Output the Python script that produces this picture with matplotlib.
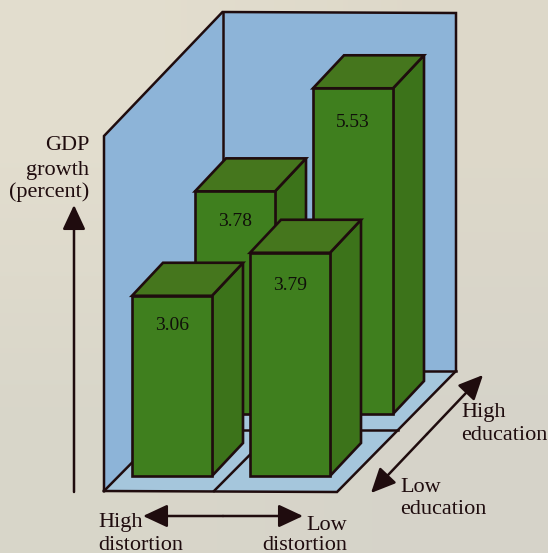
import numpy as np
import matplotlib
matplotlib.use("Agg")
import matplotlib.pyplot as plt
from matplotlib.patches import Polygon

plt.rcParams["font.family"] = ["Liberation Serif", "DejaVu Serif"]

# ------------------------------
# Data (back row first, so front bars paint over)
# ------------------------------
bar_distortion = ["High", "Low", "High", "Low"]
bar_education = ["High", "High", "Low", "Low"]
gdp_growth = [3.78, 5.53, 3.06, 3.79]

# ------------------------------
# Oblique projection (pixels of the picture)
# ------------------------------
X0, Y0 = 132, 476
COL_DX = 118
ROW_DX, ROW_DY = 63, 62
BAR_W = 80
DEPTH_DX, DEPTH_DY = 31, 33
PX_PER_UNIT = 58.9

INK = "#1f0c0e"
WALL = "#8db4d8"
FLOOR = "#a5c6dc"
FRONT = "#3f7f1e"
SIDE = "#3c731a"
TOP = "#45761d"
BG = "#dcd8cb"
TEXT_SIZE = 16


def base_xy(dist, edu):
    x = X0 + (COL_DX if dist == "Low" else 0) + (ROW_DX if edu == "High" else 0)
    y = Y0 - (ROW_DY if edu == "High" else 0)
    return x, y


def draw_bar(ax, dist, edu, value):
    x, y = base_xy(dist, edu)
    top = y - value * PX_PER_UNIT
    front = [(x, y), (x + BAR_W, y), (x + BAR_W, top), (x, top)]
    side = [(x + BAR_W, y), (x + BAR_W + DEPTH_DX, y - DEPTH_DY),
            (x + BAR_W + DEPTH_DX, top - DEPTH_DY), (x + BAR_W, top)]
    lid = [(x, top), (x + BAR_W, top), (x + BAR_W + DEPTH_DX, top - DEPTH_DY),
           (x + DEPTH_DX, top - DEPTH_DY)]
    for pts, col in [(side, SIDE), (lid, TOP), (front, FRONT)]:
        ax.add_patch(Polygon(pts, fc=col, ec=INK, lw=1.9, joinstyle="miter", zorder=3))


def arrow(ax, start, end):
    ax.annotate("", xy=end, xytext=start, zorder=4,
                arrowprops=dict(arrowstyle="-|>,head_length=1.5,head_width=0.7",
                                color=INK, lw=1.8, shrinkA=0, shrinkB=0))


fig = plt.figure(figsize=(5.48, 5.53), dpi=100, facecolor=BG)
ax = fig.add_axes([0, 0, 1, 1])

# scanned paper: warmer top left, greyer bottom right
paper = np.array([[[0.89, 0.87, 0.81], [0.87, 0.85, 0.79]],
                  [[0.85, 0.84, 0.79], [0.84, 0.83, 0.79]]])
ax.imshow(paper, extent=(0, 548, 553, 0), interpolation="bilinear", zorder=0, aspect="auto")
ax.set_xlim(0, 548)
ax.set_ylim(553, 0)
ax.axis("off")

# ------------------------------
# Box: walls and floor
# ------------------------------
ax.add_patch(Polygon([(104, 136), (222.5, 12), (222.5, 371), (104, 491)], fc=WALL, ec="none", zorder=1))
ax.add_patch(Polygon([(222.5, 12), (456, 13), (456, 371), (222.5, 371)], fc=WALL, ec="none", zorder=1))
ax.add_patch(Polygon([(104, 491), (337, 492), (456, 371), (222.5, 371)], fc=FLOOR, ec="none", zorder=1))

box_lines = [
    [(104, 491), (104, 136), (222.5, 12), (456, 13), (456, 371), (337, 492), (104, 491)],
    [(222.5, 12), (222.5, 371)],
    [(104, 491), (222.5, 371)],
    [(214, 491), (333, 371)],
    [(163, 430), (398, 430)],
    [(222.5, 371), (456, 371)],
]
for pts in box_lines:
    ax.plot(*zip(*pts), color=INK, lw=1.8, solid_joinstyle="miter", zorder=2)

# ------------------------------
# Bars
# ------------------------------
for dist, edu, value in zip(bar_distortion, bar_education, gdp_growth):
    draw_bar(ax, dist, edu, value)

# labels sit on the front faces
label_offsets = [(40, 30), (40, 34), (40, 30), (40, 33)]
for dist, edu, value, (dx, dy) in zip(bar_distortion, bar_education, gdp_growth, label_offsets):
    x, y = base_xy(dist, edu)
    ax.text(x + dx, y - value * PX_PER_UNIT + dy, f"{value:.2f}", ha="center", va="center",
            fontsize=14, color="#10100a", zorder=5)

# ------------------------------
# Axis arrows and captions
# ------------------------------
arrow(ax, (74, 492), (74, 205))
arrow(ax, (223, 516), (143, 516))
arrow(ax, (223, 516), (303, 516))
arrow(ax, (427, 434), (483, 375))
arrow(ax, (427, 434), (371, 493))

captions = [
    (89, 146, "GDP", "right"),
    (89, 170, "growth", "right"),
    (89, 192, "(percent)", "right"),
    (461, 413, "High", "left"),
    (461, 435, "education", "left"),
    (400, 487, "Low", "left"),
    (400, 510, "education", "left"),
    (98, 523, "High", "left"),
    (98, 545, "distortion", "left"),
    (347, 525, "Low", "right"),
    (347, 545, "distortion", "right"),
]
for x, y, label, ha in captions:
    ax.text(x, y, label, ha=ha, va="center", fontsize=TEXT_SIZE, color=INK, zorder=5)

fig.savefig("out.png", dpi=100, facecolor=BG)
